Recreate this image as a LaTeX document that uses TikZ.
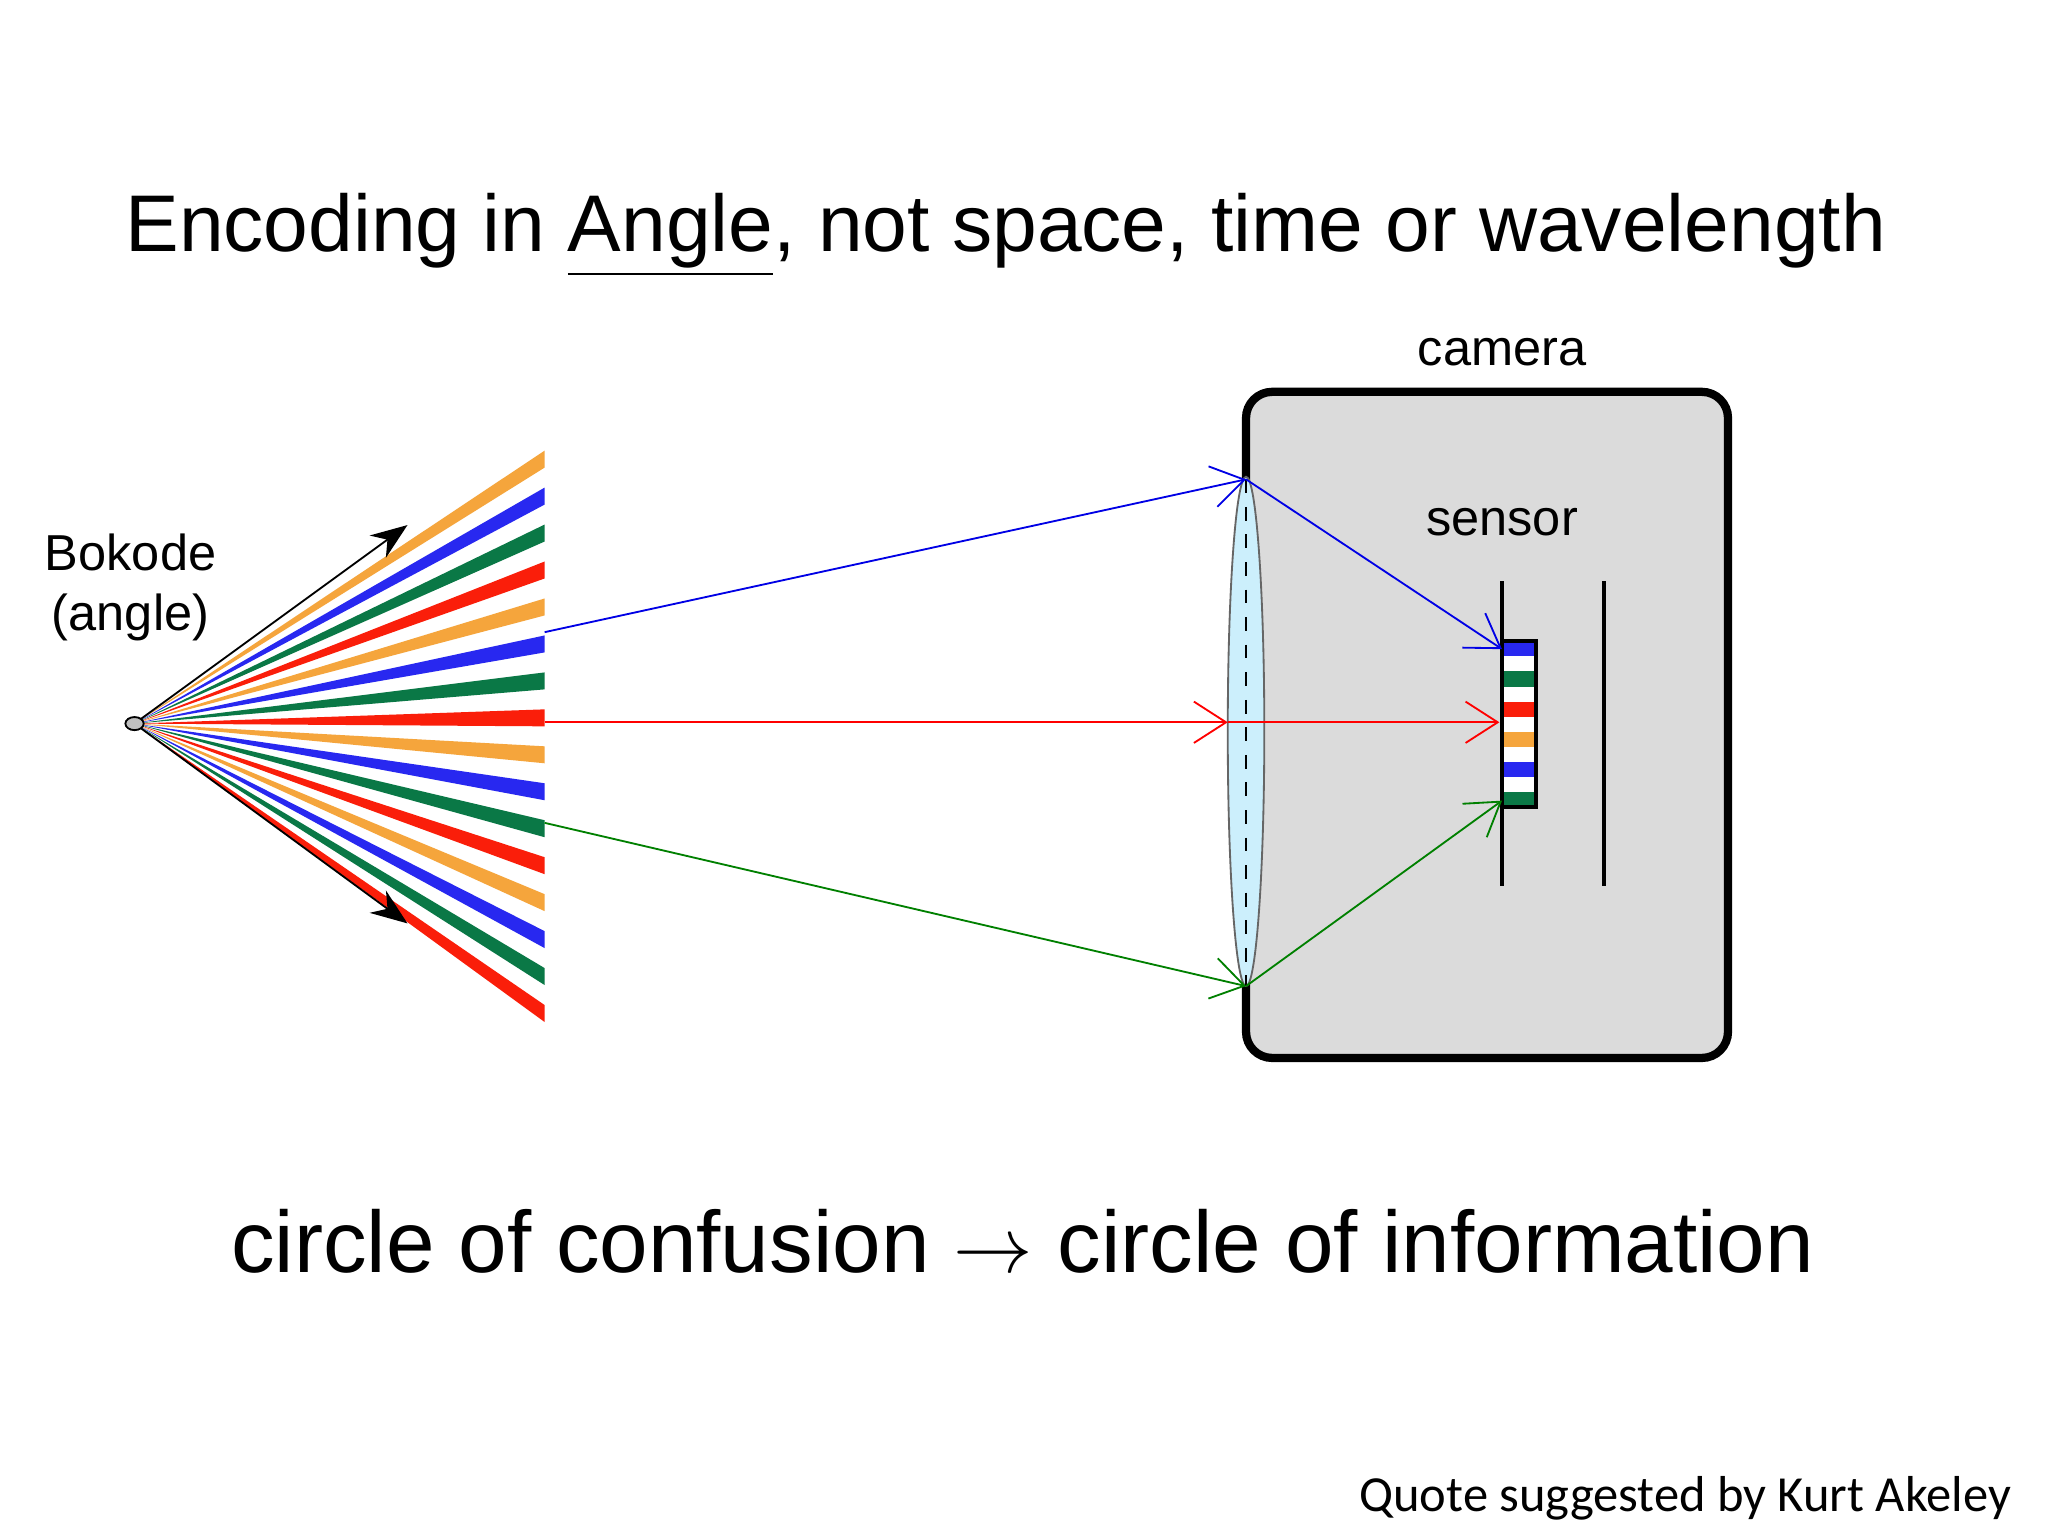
\documentclass[tikz,border=0pt]{standalone}
\usepackage{fontspec}
\setmainfont{Liberation Sans}
\newfontfamily\quotefont{Carlito}
\usetikzlibrary{arrows.meta,calc,shapes.geometric}
\definecolor{borange}{RGB}{245,165,60}
\definecolor{bblue}{RGB}{40,40,240}
\definecolor{bgreen}{RGB}{10,120,70}
\definecolor{bred}{RGB}{250,30,10}
\tikzset{ray/.style={-{Straight Barb[length=7pt,width=9pt]}},
 lbl/.style={font=\fontsize{11pt}{13pt}\selectfont, align=center}}
\begin{document}
\begin{tikzpicture}[x=0.01cm,y=-0.01cm]
\useasboundingbox (0,0) rectangle (1568,1176);
\fill[white] (0,0) rectangle (1568,1176);
\node[font=\fontsize{17.5pt}{20pt}\selectfont] (title) at (770,180) {Encoding in \underline{Angle}, not space, time or wavelength};
\coordinate (o) at (103,554);
\foreach \c [count=\i from 0] in {borange,bblue,bgreen,bred,borange,bblue,bgreen,bred,borange,bblue,bgreen,bred,borange,bblue,bgreen,bred}{
  \fill[\c] (o) -- (417,{345+28.3*\i}) -- (417,{358+28.3*\i}) -- cycle;
}
\draw[-{Stealth[length=8pt]}] (o) -- (312,402);
\draw[-{Stealth[length=8pt]}] (o) -- (312,707);
\node[draw,fill=gray!50,ellipse,inner sep=0pt,minimum width=0.14cm,minimum height=0.1cm] (bok) at (o) {};
\node[lbl] (bl) at (100,450) {Bokode\\(angle)};
\draw[line width=1.8pt,rounded corners=0.2cm,fill=gray!28] (954,300) rectangle (1323,810);
\node[lbl] (cam) at (1150,270) {camera};
\node[lbl] (sen) at (1150,400) {sensor};
\draw[fill=cyan!20!white,draw=black!60] (954,560) ellipse (14 and 195);
\draw[dashed] (954,367) -- (954,755);
\draw[line width=1pt] (1150,445) -- (1150,678);
\draw[line width=1pt] (1228,445) -- (1228,678);
\foreach \c [count=\i from 0] in {bblue,white,bgreen,white,bred,white,borange,white,bblue,white,bgreen}{
  \fill[\c] (1150,{491+11.55*\i}) rectangle (1176,{491+11.55*(\i+1)});
}
\draw[line width=0.8pt] (1150,491) rectangle (1176,618);
\coordinate (b0) at (417,484); \coordinate (b1) at (954,367); \coordinate (b2) at (1150,497);
\coordinate (r0) at (417,553); \coordinate (r1) at (940,553); \coordinate (r2) at (1148,553);
\coordinate (g0) at (417,630); \coordinate (g1) at (954,755); \coordinate (g2) at (1150,613);
\draw[ray,blue!90!black] (b0) -- (b1); \draw[ray,blue!90!black] (b1) -- (b2);
\draw[ray,red] (r0) -- (r1); \draw[ray,red] (r1) -- (r2);
\draw[ray,green!50!black] (g0) -- (g1); \draw[ray,green!50!black] (g1) -- (g2);
\node[font=\fontsize{19pt}{22pt}\selectfont] (bottom) at (783,950) {circle of confusion \textbf{$\rightarrow$} circle of information};
\node[font=\quotefont\fontsize{11pt}{13pt}\selectfont,anchor=east] (q) at (1552,1147) {Quote suggested by Kurt Akeley};
\end{tikzpicture}
\end{document}
